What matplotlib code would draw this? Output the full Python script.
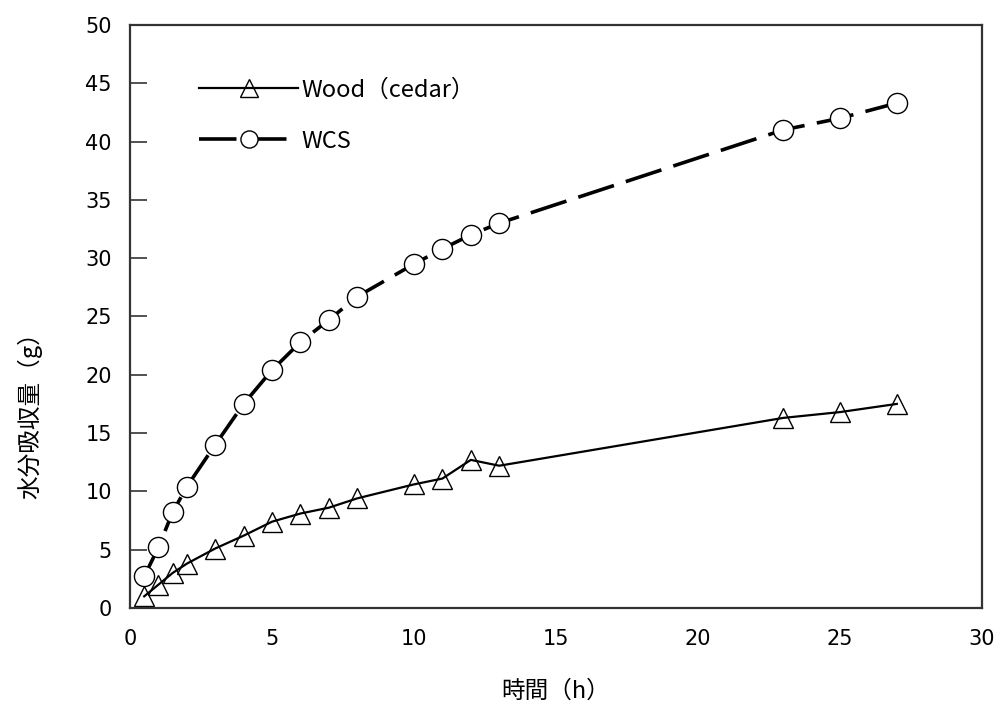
import matplotlib

matplotlib.use("Agg")
import matplotlib.pyplot as plt

plt.rcParams["font.family"] = ["Noto Sans CJK JP", "DejaVu Sans"]
plt.rcParams["lines.scale_dashes"] = False

# elapsed time (h)
hours = [0.5, 1, 1.5, 2, 3, 4, 5, 6, 7, 8, 10, 11, 12, 13, 23, 25, 27]

# water uptake (g)
wood_cedar = [1.0, 2.0, 3.0, 3.8, 5.1, 6.2, 7.4, 8.1, 8.6, 9.4,
              10.6, 11.1, 12.7, 12.2, 16.3, 16.8, 17.5]
wcs = [2.7, 5.2, 8.2, 10.4, 14.0, 17.5, 20.4, 22.8, 24.7, 26.7,
       29.5, 30.8, 32.0, 33.0, 41.0, 42.0, 43.3]

x_ticks = [0, 5, 10, 15, 20, 25, 30]
y_ticks = [0, 5, 10, 15, 20, 25, 30, 35, 40, 45, 50]


def main() -> None:
    fig = plt.figure(figsize=(9.97, 7.11), dpi=100)
    ax = fig.add_axes([0.1304, 0.1449, 0.8546, 0.8200])

    ax.plot(
        hours, wood_cedar,
        color="black", linewidth=1.6,
        marker="^", markersize=15, markerfacecolor="none",
        markeredgecolor="black", markeredgewidth=1.0,
        label="Wood（cedar）",
    )
    ax.plot(
        hours, wcs,
        color="black", linewidth=2.6, dashes=(27, 9),
        marker="o", markersize=14.5, markerfacecolor="white",
        markeredgecolor="black", markeredgewidth=1.0,
        label="WCS",
    )

    ax.set_xlim(0, 30)
    ax.set_ylim(0, 50)
    ax.set_xticks(x_ticks)
    ax.set_yticks(y_ticks)

    ax.tick_params(axis="y", direction="in", length=12, width=1.2,
                   color="#333333", labelsize=15, pad=13)
    ax.tick_params(axis="x", length=0, labelsize=15, pad=15)
    for label in ax.get_xticklabels() + ax.get_yticklabels():
        label.set_family("DejaVu Sans")
    for spine in ax.spines.values():
        spine.set_color("#333333")
        spine.set_linewidth(1.6)

    ax.set_xlabel("時間（h）", fontsize=17, labelpad=22)
    ax.set_ylabel("水分吸収量（g）", fontsize=17, labelpad=30)
    ax.yaxis.set_label_coords(-0.103, 0.34)

    ax.legend(
        loc="upper left", bbox_to_anchor=(0.056, 0.945),
        frameon=False, fontsize=17, handlelength=4.2,
        handletextpad=0.15, labelspacing=1.2, markerscale=0.85,
    )

    fig.savefig("out.png", dpi=100)


if __name__ == "__main__":
    main()
